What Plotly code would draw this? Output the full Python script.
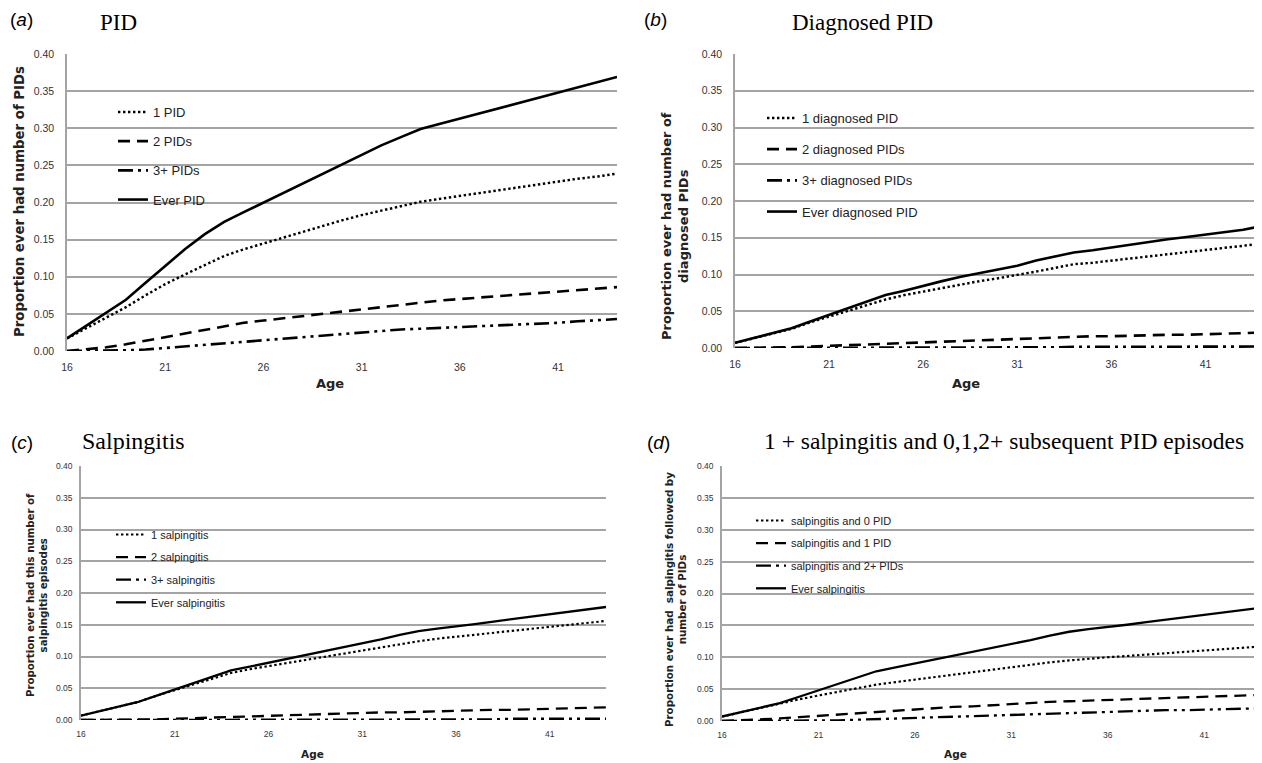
import plotly.graph_objects as go

ages = list(range(16, 45))

# Panel (a) PID
a_1pid = [.017,.031,.045,.059,.075,.090,.103,.116,.128,.137,.145,.153,.161,.169,.176,.183,.189,.195,.201,.205,.209,.213,.217,.221,.225,.228,.232,.235,.239]
a_2pid = [0,.002,.005,.009,.014,.019,.024,.029,.034,.038,.041,.044,.047,.050,.053,.056,.059,.063,.066,.068,.070,.072,.074,.076,.078,.080,.082,.084,.086]
a_3pid = [0,0,0,.001,.002,.004,.006,.008,.011,.013,.015,.017,.019,.021,.023,.025,.027,.029,.030,.031,.032,.033,.035,.036,.037,.038,.040,.041,.043]
a_ever = [.017,.034,.051,.069,.092,.115,.137,.157,.174,.187,.200,.213,.226,.239,.252,.265,.277,.288,.299,.306,.313,.320,.327,.333,.340,.347,.354,.361,.369]

# Panel (b) Diagnosed PID
b_1 = [.007,.013,.020,.026,.035,.043,.051,.059,.066,.072,.077,.082,.086,.091,.095,.099,.104,.109,.114,.116,.119,.122,.125,.128,.130,.133,.136,.139,.142]
b_2 = [0,0,.001,.001,.002,.003,.004,.005,.006,.007,.008,.009,.010,.011,.012,.013,.014,.014,.015,.016,.016,.017,.017,.018,.018,.019,.019,.020,.021]
b_3 = [0,0,0,0,0,0,0,0,0,0,.001,.001,.001,.001,.001,.001,.001,.001,.0015,.0015,.0015,.0015,.0015,.002,.002,.002,.002,.002,.002]
b_ever = [.007,.014,.021,.027,.036,.045,.054,.063,.072,.078,.085,.091,.097,.102,.107,.112,.119,.125,.130,.133,.137,.141,.145,.148,.151,.154,.157,.161,.166]

# Panel (c) Salpingitis
c_1 = [.007,.014,.021,.028,.038,.047,.057,.066,.074,.080,.085,.090,.095,.100,.105,.109,.114,.119,.124,.128,.131,.134,.137,.140,.144,.147,.150,.153,.156]
c_2 = [0,0,0,.001,.001,.002,.003,.004,.005,.006,.007,.008,.009,.009,.010,.011,.012,.012,.013,.014,.015,.015,.016,.016,.017,.018,.018,.019,.020]
c_3 = [0,0,0,0,0,0,0,0,0,0,0,.001,.001,.001,.001,.001,.001,.001,.001,.001,.001,.001,.001,.002,.002,.002,.002,.002,.002]
c_ever = [.007,.014,.021,.028,.038,.048,.058,.068,.078,.084,.090,.096,.102,.108,.114,.120,.127,.134,.140,.144,.147,.151,.155,.159,.163,.167,.171,.174,.178]

# Panel (d) salpingitis followed by PID
d_0 = [.007,.014,.021,.028,.034,.040,.046,.052,.057,.061,.065,.069,.073,.077,.081,.085,.088,.092,.095,.098,.100,.102,.104,.106,.108,.110,.112,.115,.117]
d_1 = [0,.001,.002,.004,.006,.008,.010,.013,.015,.017,.018,.020,.022,.023,.025,.026,.028,.030,.031,.032,.033,.034,.035,.036,.037,.038,.039,.040,.041]
d_2 = [0,0,0,0,.0005,.001,.001,.002,.003,.004,.005,.006,.007,.008,.009,.010,.011,.012,.013,.014,.015,.016,.016,.017,.017,.018,.019,.019,.020]
d_ever = c_ever

x_ticks = [16, 21, 26, 31, 36, 41]
y_ticks = [0, .05, .10, .15, .20, .25, .30, .35, .40]
y_tick_text = ["0.00", "0.05", "0.10", "0.15", "0.20", "0.25", "0.30", "0.35", "0.40"]

# page has an 8px body margin; figure drawn from (8,8)
OFF = 8
W, H = 1262 - OFF, 763 - OFF

def PX(x):
    return (x - OFF) / W

def PY(y):
    return 1 - (y - OFF) / H

panels = [
    dict(key="a", xd=[PX(67), PX(617)], yd=[PY(351), PY(54)],
         names=["1 PID", "2 PIDs", "3+ PIDs", "Ever PID"], data=[a_1pid, a_2pid, a_3pid, a_ever],
         legend=dict(x=PX(113), y=PY(97), fs=13, gap=9.3), tickfs=10.5, w=2.6, xs=8, ys=9),
    dict(key="b", xd=[PX(735), 1.0], yd=[PY(348), PY(54)],
         names=["1 diagnosed PID", "2 diagnosed PIDs", "3+ diagnosed PIDs", "Ever diagnosed PID"],
         data=[b_1, b_2, b_3, b_ever],
         legend=dict(x=PX(762), y=PY(103), fs=13, gap=11.3), tickfs=10.5, w=2.6, xs=8, ys=9),
    dict(key="c", xd=[PX(81), PX(606)], yd=[PY(720), PY(466)],
         names=["1 salpingitis", "2 salpingitis", "3+ salpingitis", "Ever salpingitis"],
         data=[c_1, c_2, c_3, c_ever],
         legend=dict(x=PX(111), y=PY(520), fs=11, gap=3.6), tickfs=8.5, w=2.3, xs=7, ys=5),
    dict(key="d", xd=[PX(722), 1.0], yd=[PY(721), PY(466)],
         names=["salpingitis and 0 PID", "salpingitis and 1 PID", "salpingitis and 2+ PIDs", "Ever salpingitis"],
         data=[d_0, d_1, d_2, d_ever],
         legend=dict(x=PX(751), y=PY(506), fs=11, gap=3.6), tickfs=8.5, w=2.3, xs=7, ys=5),
]

dashes = ["2.4px,2.6px", "12px,7px", "15px,5px,3px,5px,3px,5px", "solid"]

fig = go.Figure()
layout = dict(width=W, height=H, margin=dict(l=0, r=0, t=0, b=0, autoexpand=False),
              paper_bgcolor="white", plot_bgcolor="white", showlegend=True)

for i, p in enumerate(panels):
    n = "" if i == 0 else str(i + 1)
    lg = "legend" if i == 0 else f"legend{i+1}"
    for j, (name, vals) in enumerate(zip(p["names"], p["data"])):
        wd = p["w"] if j != 0 else p["w"] * 0.95
        fig.add_trace(go.Scatter(
            x=ages, y=vals, mode="lines", name=name,
            line=dict(color="black", width=wd, dash=dashes[j]),
            xaxis=f"x{n}", yaxis=f"y{n}", legend=lg, legendgroup=f"{p['key']}{j}",
            showlegend=True))
    layout[f"xaxis{n}"] = dict(domain=p["xd"], anchor=f"y{n}", range=[16, 44],
                               tickvals=x_ticks, showgrid=False, zeroline=False,
                               showline=False, ticks="", automargin=False,
                               ticklabelstandoff=p["xs"],
                               tickfont=dict(family="Liberation Sans", size=p["tickfs"], color="#333"))
    layout[f"yaxis{n}"] = dict(domain=p["yd"], anchor=f"x{n}", range=[0, 0.4],
                               tickvals=y_ticks, ticktext=y_tick_text, showgrid=True,
                               gridcolor="#a4a4a4", gridwidth=1.5, zeroline=False,
                               showline=True, linecolor="#a4a4a4", linewidth=1.5, ticks="",
                               automargin=False, ticklabelstandoff=p["ys"],
                               tickfont=dict(family="Liberation Sans", size=p["tickfs"], color="#333"))
    L = p["legend"]
    layout[lg] = dict(x=L["x"], y=L["y"], xanchor="left", yanchor="top",
                      bgcolor="rgba(0,0,0,0)", tracegroupgap=L["gap"],
                      font=dict(family="Liberation Sans", size=L["fs"], color="#222"))

fig.update_layout(**layout)

ann = []
def A(text, x, y, size, family="Liberation Sans", angle=0, color="black"):
    ann.append(dict(text=text, x=PX(x), y=PY(y), xref="paper", yref="paper",
                    xanchor="center", yanchor="middle", borderpad=0,
                    showarrow=False, textangle=angle, font=dict(family=family, size=size, color=color)))

# panel labels and titles
A("(<i>a</i>)", 21, 20, 19)
A("PID", 118, 22, 23, family="Liberation Serif")
A("(<i>b</i>)", 655, 20, 19)
A("Diagnosed PID", 862, 22, 23, family="Liberation Serif")
A("(<i>c</i>)", 22, 442, 19)
A("Salpingitis", 133, 441, 24, family="Liberation Serif")
A("(<i>d</i>)", 658, 442, 19)
A("1 + salpingitis and 0,1,2+ subsequent PID episodes", 1004, 441, 23.5, family="Liberation Serif")

# axis titles
A("<b>Age</b>", 330, 383, 13, family="DejaVu Sans", color="#222")
A("<b>Age</b>", 966, 383, 13, family="DejaVu Sans", color="#222")
A("<b>Age</b>", 312, 754, 10.5, family="DejaVu Sans", color="#222")
A("<b>Age</b>", 956, 754, 10.5, family="DejaVu Sans", color="#222")

A("<b>Proportion ever had number of PIDs</b>", 20, 202, 13.3, family="DejaVu Sans", angle=-90, color="#222")
A("<b>Proportion ever had number of<br>diagnosed PIDs</b>", 675, 226, 13, family="DejaVu Sans", angle=-90, color="#222")
A("<b>Proportion ever had this number of<br>salpingitis episodes</b>", 37, 595, 10.2, family="DejaVu Sans", angle=-90, color="#222")
A("<b>Proportion ever had  salpingitis followed by<br>number of PIDs</b>", 675, 600, 10.3, family="DejaVu Sans", angle=-90, color="#222")

fig.update_layout(annotations=ann)
fig.write_html("out.html")
